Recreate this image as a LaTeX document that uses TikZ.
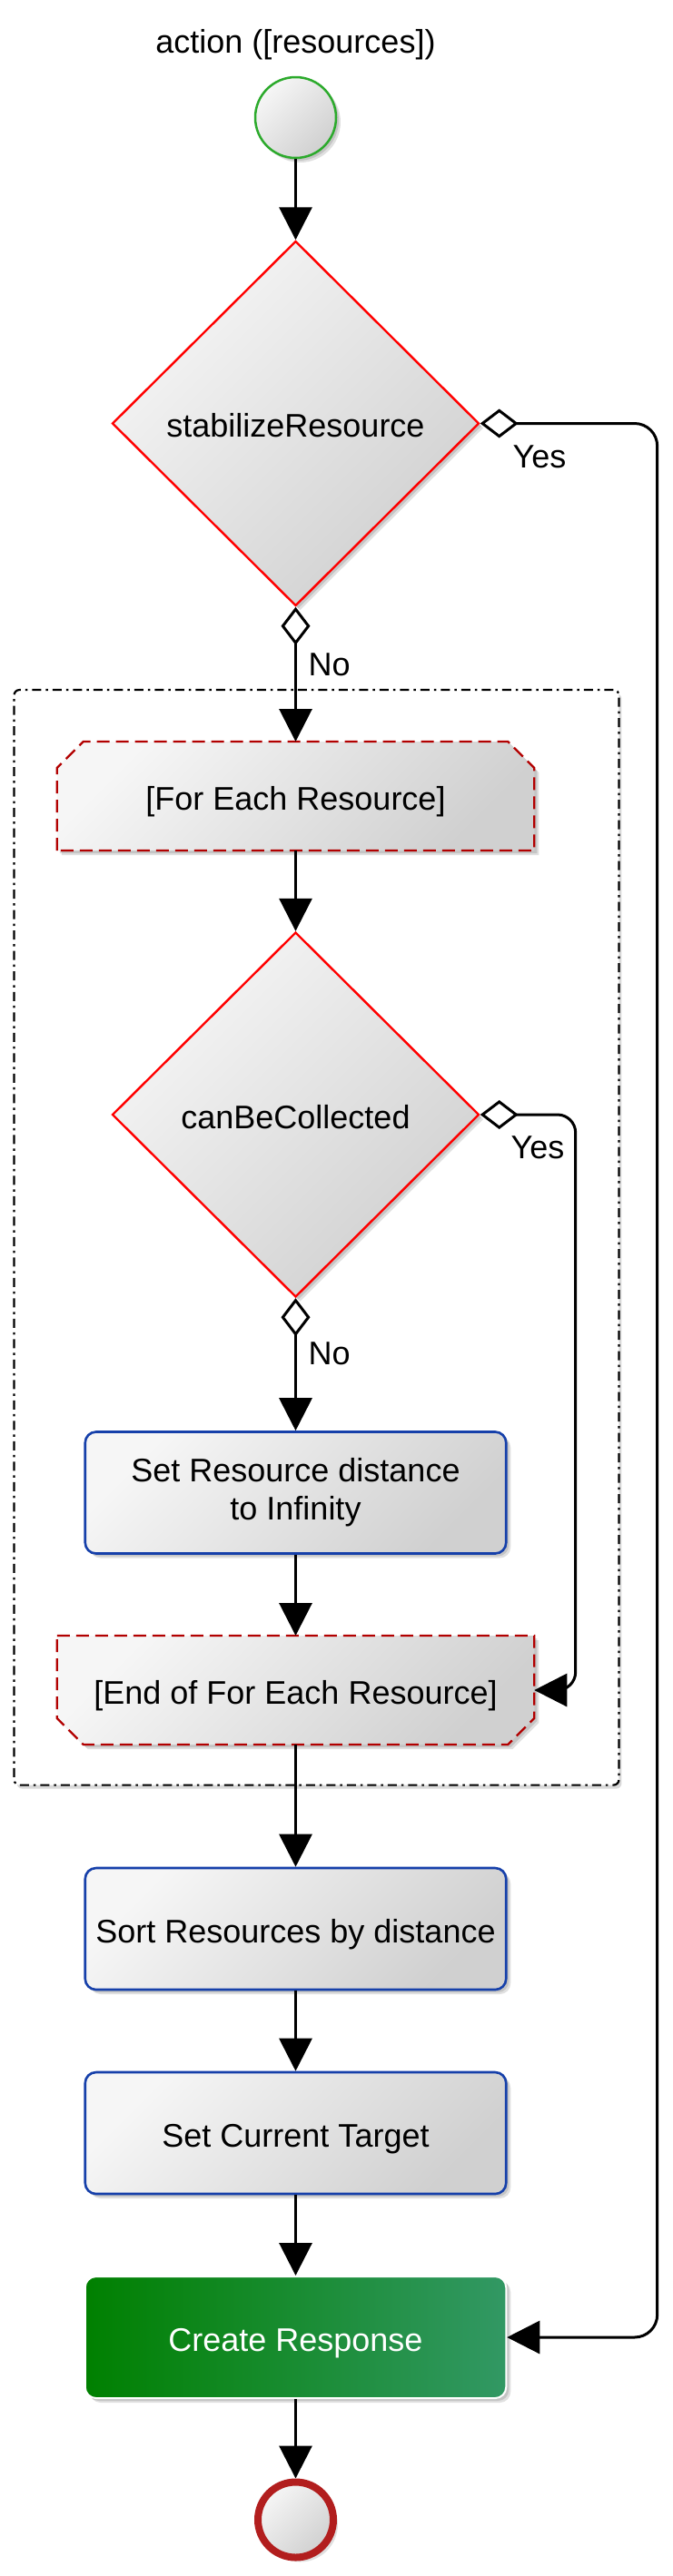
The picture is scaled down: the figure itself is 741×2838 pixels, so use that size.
\documentclass[tikz,border=0pt]{standalone}
\usepackage{fontspec}
\setmainfont{Liberation Sans}
\usetikzlibrary{shapes.geometric,arrows.meta,shadows,calc}
\pgfdeclarelayer{background}
\pgfsetlayers{background,main}
\definecolor{startgreen}{RGB}{44,170,44}
\definecolor{endred}{RGB}{178,30,30}
\definecolor{decred}{RGB}{255,0,0}
\definecolor{loopred}{RGB}{178,0,0}
\definecolor{actblue}{RGB}{22,64,170}
\definecolor{gleft}{RGB}{0,128,0}
\definecolor{gright}{RGB}{50,152,100}
\definecolor{fillA}{RGB}{246,246,246}
\definecolor{fillB}{RGB}{208,208,208}
\begin{document}
\begin{tikzpicture}[x=1pt,y=-1pt,
  txt/.style={font=\fontsize{36}{42}\selectfont},
  lab/.style={txt, inner sep=0pt, text height=25pt, text depth=0pt},
  oneline/.style={text height=30pt, text depth=0pt},
  shadegray/.style={top color=fillA, bottom color=fillB, shading angle=45},
  shadowed/.style={drop shadow={shadow xshift=5pt,shadow yshift=-5pt,opacity=0.12,fill=black},
                   drop shadow={shadow xshift=3pt,shadow yshift=-3pt,opacity=0.12,fill=black}},
  decision/.style={diamond, draw=decred, line width=2.4pt, minimum width=404pt, minimum height=402pt,
                   inner sep=0pt, shadegray, shadowed, txt, oneline},
  action/.style={rectangle, rounded corners=12pt, draw=actblue, line width=2.6pt, minimum width=463.5pt,
                 minimum height=134pt, inner sep=0pt, shadegray, shadowed, txt, align=center},
  create/.style={draw=white, line width=2pt, left color=gleft, right color=gright, text=white},
  loopbox/.style={rectangle, minimum width=525.5pt, minimum height=120pt, inner sep=0pt, outer sep=0pt, txt, oneline},
  loopoutline/.style={draw=loopred, line width=2.4pt, dash pattern=on 14pt off 7pt, shadegray, shadowed},
  startnode/.style={circle, draw=startgreen, line width=2.5pt, minimum size=89pt, inner sep=0pt, shadegray, shadowed},
  endnode/.style={circle, draw=endred, line width=8pt, minimum size=83pt, inner sep=0pt, shadegray, shadowed},
  flow/.style={line width=3pt, -{Triangle[length=36pt,width=36pt]}},
  flowd/.style={line width=3pt, {Diamond[open,fill=white,length=42pt,width=32pt]}-{Triangle[length=36pt,width=36pt]}}
]
\useasboundingbox (0,0) rectangle (741,2838);

% nodes
\node[lab, anchor=base] (title) at (325.5,58) {action ([resources])};
\node[startnode] (start) at (325.5,129.5) {};
\node[decision] (d1) at (325.5,466.5) {stabilizeResource};
\node[loopbox] (fe) at (325.5,877) {[For Each Resource]};
\node[decision] (d2) at (325.5,1228) {canBeCollected};
\node[action] (sr) at (325.5,1644.5) {Set Resource distance\\to Infinity};
\node[loopbox] (efe) at (325.5,1862) {[End of For Each Resource]};
\node[action, oneline] (sort) at (325.5,2125) {Sort Resources by distance};
\node[action, oneline] (sct) at (325.5,2350) {Set Current Target};
\node[action, oneline, create] (cr) at (325.5,2575) {Create Response};
\node[endnode] (stop) at (325.5,2776) {};

% labels
\node[lab, anchor=west] (no1) at (339.5,731.5) {No};
\node[lab, anchor=west] (yes1) at (564.5,503) {Yes};
\node[lab, anchor=west] (yes2) at (562.5,1264) {Yes};
\node[lab, anchor=west] (no2) at (339.5,1491) {No};

% connectors
\draw[flow] (start) -- (d1);
\draw[flowd] (d1.south) -- (fe.north);
\draw[flow] (fe.south) -- (d2.north);
\draw[flowd] (d2.south) -- (sr.north);
\draw[flow] (sr.south) -- (efe.north);
\draw[flow] (efe.south) -- (sort.north);
\draw[flow] (sort.south) -- (sct.north);
\draw[flow] (sct.south) -- (cr.north);
\draw[flow] (cr.south) -- (stop.north);
\draw[flowd, rounded corners=25pt] (d1.east) -- ++(195,0) |- (cr.east);
\draw[flowd, rounded corners=20pt] (d2.east) -- ++(105,0) |- (efe.east);

% background: page, loop container, loop markers
\begin{pgfonlayer}{background}
\fill[white] (0,0) rectangle (741,2838);
\node[draw, line width=2.2pt, dash pattern=on 10pt off 5pt on 2.5pt off 5pt, rounded corners=6pt,
      fill=white, minimum width=665.9pt, minimum height=1206.6pt, inner sep=0pt,
      drop shadow={shadow xshift=3pt,shadow yshift=-4pt,opacity=0.15,fill=black}]
      (loop) at (348.5,1363.3) {};
\path[loopoutline] (fe.south west) -- ([yshift=-29pt]fe.north west) -- ([xshift=29pt]fe.north west)
   -- ([xshift=-29pt]fe.north east) -- ([yshift=-29pt]fe.north east) -- (fe.south east) -- cycle;
\path[loopoutline] (efe.north west) -- (efe.north east) -- ([yshift=29pt]efe.south east)
   -- ([xshift=-29pt]efe.south east) -- ([xshift=29pt]efe.south west) -- ([yshift=29pt]efe.south west) -- cycle;
\end{pgfonlayer}
\end{tikzpicture}
\end{document}
